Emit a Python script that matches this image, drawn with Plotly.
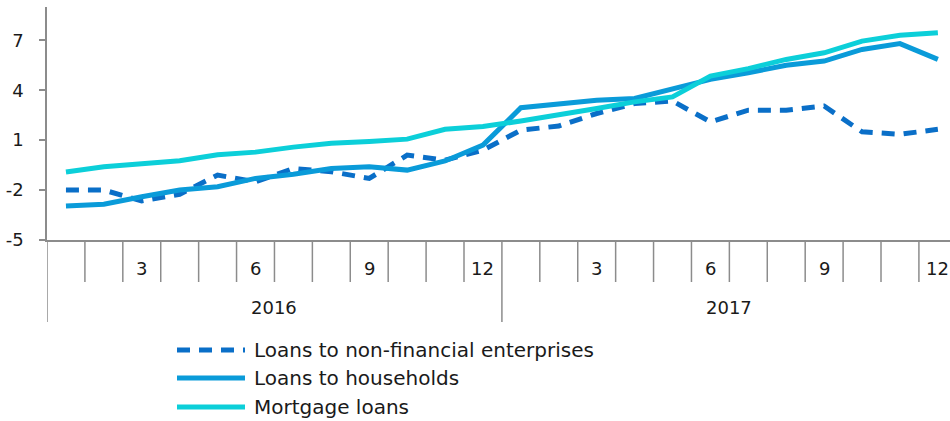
import plotly.graph_objects as go

# Monthly data, 2016-2017
years = [2016] * 12 + [2017] * 12
months = list(range(1, 13)) * 2
categories = [f"{y}-{m:02d}" for y, m in zip(years, months)]

non_financial = [-2.0, -2.0, -2.65, -2.25, -1.1, -1.5, -0.7, -0.9, -1.3, 0.1, -0.2, 0.4,
                 1.6, 1.85, 2.6, 3.2, 3.35, 2.1, 2.8, 2.8, 3.05, 1.5, 1.35, 1.65]
households = [-2.95, -2.85, -2.4, -2.0, -1.8, -1.3, -1.05, -0.7, -0.6, -0.8, -0.25, 0.7,
              2.95, 3.2, 3.4, 3.5, 4.1, 4.65, 5.05, 5.5, 5.75, 6.45, 6.8, 5.85]
mortgage = [-0.92, -0.6, -0.42, -0.24, 0.12, 0.28, 0.58, 0.82, 0.92, 1.06, 1.65, 1.82,
            2.15, 2.5, 2.9, 3.3, 3.6, 4.85, 5.3, 5.85, 6.25, 6.95, 7.3, 7.45]

series_names = ["Loans to non-financial enterprises", "Loans to households", "Mortgage loans"]
series_colors = ["#0a6fc8", "#0a9bd9", "#0ccfd9"]
series_dash = ["13px,9px", "solid", "solid"]

y_ticks = [-5, -2, 1, 4, 7]
y_tick_text = ["-5", "-2", "1", "4", "7"]
month_ticks = [3, 6, 9, 12]
year_labels = [2016, 2017]

FONT = "DejaVu Sans"
TEXT = "#1a1a1a"
AXIS = "#8c8c8c"

W, H = 950, 421
L, T = 47, 7
PLOT_BOTTOM = 240
PLOT_H = PLOT_BOTTOM - T


def py(p):
    """Pixel row -> paper y coordinate."""
    return (PLOT_BOTTOM - p) / PLOT_H


def px(p):
    """Pixel column -> paper x coordinate."""
    return (p - L) / (W - L)


fig = go.Figure()
for name, vals, col, dash in zip(series_names, [non_financial, households, mortgage],
                                 series_colors, series_dash):
    fig.add_trace(go.Scatter(x=categories, y=vals, mode="lines", name=name,
                             line=dict(color=col, width=5, dash=dash),
                             showlegend=False))

shapes = []
annotations = []
n = len(categories)

# boundary ticks between months (long ticks for year boundaries)
for k in range(n):
    b = k - 0.5
    is_year = months[k] == 1
    shapes.append(dict(type="line", xref="x", yref="paper", x0=b, x1=b,
                       y0=0, y1=py(322 if is_year else 282),
                       line=dict(color=AXIS, width=1.5)))

# month labels
for k in range(n):
    if months[k] in month_ticks:
        annotations.append(dict(x=categories[k], y=py(268), xref="x", yref="paper",
                                xanchor="center", yanchor="middle",
                                text=str(months[k]), showarrow=False,
                                font=dict(family=FONT, size=18, color=TEXT)))

# year labels centred under each year
for yr in year_labels:
    idx = [k for k in range(n) if years[k] == yr]
    centre = (idx[0] + idx[-1]) / 2
    annotations.append(dict(x=centre, y=py(307), xref="x", yref="paper",
                            xanchor="center", yanchor="middle",
                            text=str(yr), showarrow=False,
                            font=dict(family=FONT, size=18, color=TEXT)))

# legend
legend_rows = [350, 378, 407]
for name, col, dash, row in zip(series_names, series_colors, series_dash, legend_rows):
    shapes.append(dict(type="line", xref="paper", yref="paper",
                       x0=px(177), x1=px(245), y0=py(row), y1=py(row),
                       line=dict(color=col, width=5, dash=dash)))
    annotations.append(dict(x=px(252), y=py(row), xref="paper", yref="paper",
                            xanchor="left", yanchor="middle", text=name, showarrow=False,
                            font=dict(family=FONT, size=20, color=TEXT)))

fig.update_layout(
    width=W, height=H,
    margin=dict(l=L, r=0, t=T, b=H - PLOT_BOTTOM),
    paper_bgcolor="white", plot_bgcolor="white",
    shapes=shapes, annotations=annotations,
    xaxis=dict(type="category", range=[-0.5, 23.32], showticklabels=False,
               ticks="", showgrid=False, zeroline=False,
               showline=True, linecolor=AXIS, linewidth=1.5),
    yaxis=dict(range=[-5, 9], tickvals=y_ticks, ticktext=y_tick_text,
               ticks="outside", ticklen=6,
               tickcolor=AXIS, tickwidth=1.5, showgrid=False, zeroline=False,
               showline=True, linecolor=AXIS, linewidth=1.5,
               ticklabelstandoff=12,
               tickfont=dict(family=FONT, size=18, color=TEXT)),
)

fig.write_html("out.html")
